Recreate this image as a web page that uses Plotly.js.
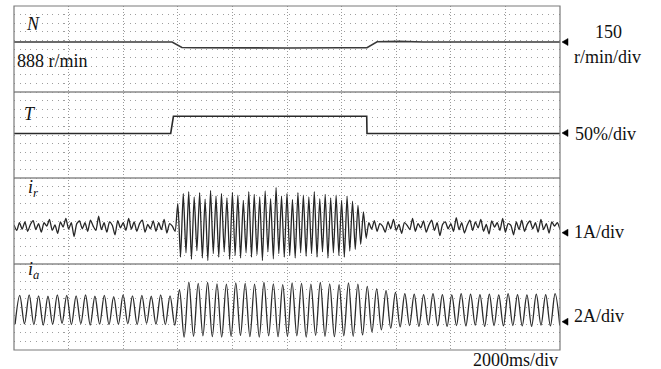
<!DOCTYPE html>
<html>
<head>
<meta charset="utf-8">
<script src="https://cdn.plot.ly/plotly-3.0.1.min.js"></script>
<style>html,body{margin:0;padding:0;background:#fff;}#chart{width:661px;height:369px;}</style>
</head>
<body>
<div id="chart"></div>
<script>
// ---- Data (time in s, 2000 ms/div) ----
// Speed N (r/min)
const nTime = [0, 2, 4, 5.79, 6.15, 6.6, 8, 10, 12, 12.93, 13.3, 14.1, 15, 17, 20];
const nSpeed = [888, 889, 888, 888, 869, 868, 867, 867, 868, 868, 889, 890, 888, 889, 888];
// Load torque T (%)
const tTime = [0, 5.74, 5.84, 12.92, 12.93, 20];
const tLoad = [0, 0, 20, 20, 0, 0];
// Rotor current i_r (A), sampled every 0.1 s
const irStep = 0.1;
const irBefore = [0.05,-0.08,0.10,-0.05,0.12,-0.10,0.06,0.15,-0.06,0.08,
  -0.12,0.10,0.02,0.18,-0.08,0.05,-0.15,0.12,0.00,0.20,
  -0.05,0.10,-0.22,0.08,0.14,-0.04,0.10,-0.10,0.16,0.02,
  -0.08,0.25,-0.06,0.10,-0.12,0.12,0.04,-0.18,0.15,-0.02,
  0.10,-0.08,0.20,-0.05,0.12,-0.10,0.08,0.16,-0.12,0.06,
  -0.04,0.14,-0.10,0.10,-0.06,0.18,-0.14,0.08,0.02,-0.10];
const irLoaded = [0.55,-0.70,0.78,-0.60,0.82,-0.75,0.70,-0.55,0.80,-0.72,
  0.65,-0.78,0.85,-0.62,0.72,-0.70,0.78,-0.58,0.68,-0.75,
  0.80,-0.66,0.74,-0.72,0.62,-0.60,0.82,-0.70,0.76,-0.64,
  0.70,-0.78,0.84,-0.58,0.66,-0.74,0.92,-0.62,0.72,-0.70,
  0.78,-0.66,0.64,-0.72,0.80,-0.60,0.74,-0.68,0.70,-0.62,
  0.82,-0.70,0.66,-0.58,0.76,-0.72,0.68,-0.60,0.74,-0.66,
  0.62,-0.70,0.72,-0.56,0.60,-0.52,0.50,-0.40,0.35,-0.25];
const irAfter = [0.10,-0.05,0.15,-0.10,0.08,0.02,-0.12,0.12,-0.04,0.18,
  -0.08,0.06,-0.15,0.10,0.04,-0.06,0.20,-0.10,0.08,-0.02,
  0.14,-0.12,0.05,0.16,-0.08,0.10,-0.20,0.06,0.12,-0.04,
  0.08,-0.10,0.22,-0.06,0.10,-0.14,0.04,0.16,-0.08,0.12,
  -0.02,0.18,-0.10,0.06,-0.16,0.14,0.00,0.10,-0.08,0.20,
  -0.12,0.08,0.04,-0.18,0.12,-0.06,0.16,-0.10,0.06,0.14,
  -0.04,0.10,-0.12,0.18,-0.06,0.08,-0.14,0.12,0.02,0.10,-0.05];
// Stator current i_a (A): successive troughs/peaks, starting 0.04 s, every 0.172 s
const iaStart = 0.04, iaStep = 0.172;
const iaBefore = [-0.66,0.68,-0.64,0.70,-0.68,0.66,-0.70,0.64,-0.66,0.70,
  -0.62,0.68,-0.68,0.66,-0.64,0.70,-0.70,0.64,-0.66,0.68,
  -0.68,0.62,-0.66,0.70,-0.64,0.66,-0.68,0.68,-0.62,0.64,
  -0.66,0.70,-0.68,0.66,-0.70];
const iaLoaded = [0.93,-1.26,1.30,-1.22,1.24,-1.20,1.28,-1.24,1.22,-1.26,
  1.20,-1.22,1.26,-1.18,1.24,-1.24,1.20,-1.26,1.28,-1.20,
  1.22,-1.24,1.18,-1.22,1.26,-1.20,1.24,-1.26,1.20,-1.18,
  1.28,-1.22,1.22,-1.24,1.18,-1.20,1.26,-1.22,1.20,-1.16,
  1.10,-1.02,0.98,-0.92,0.90,-0.84,0.82,-0.78];
const iaAfter = [0.76,-0.72,0.74,-0.76,0.72,-0.70,0.76,-0.74,0.72,-0.76,
  0.70,-0.72,0.76,-0.74,0.74,-0.70,0.72,-0.76,0.74,-0.72,
  0.70,-0.74,0.76,-0.72,0.72,-0.74,0.70,-0.76,0.74,-0.70,
  0.72,-0.74,0.76,-0.72];
// Channel labels / scales
const channelNames = ["N", "T", "i<sub>r</sub>", "i<sub>a</sub>"];
const scaleLabels = ["150", "r/min/div", "50%/div", "1A/div", "2A/div"];
const speedLabel = "888 r/min";
const timeLabel = "2000ms/div";

// ---- Channel placement on the 8-division screen (display only) ----
const ch = {
  N:  {pos: 7.163, ref: 888, perDiv: 150},
  T:  {pos: 5.035, ref: 0, perDiv: 50},
  ir: {pos: 2.860, ref: 0, perDiv: 1},
  ia: {pos: 0.930, ref: 0, perDiv: 2}
};
const toDiv = (c, arr) => arr.map(v => c.pos + (v - c.ref) / c.perDiv);

const irVals = irBefore.concat(irLoaded, irAfter);
const irTime = irVals.map((_, i) => i * irStep);
const iaVals = iaBefore.concat(iaLoaded, iaAfter);
const iaTime = iaVals.map((_, i) => iaStart + i * iaStep);

const traces = [
  {x: nTime, y: toDiv(ch.N, nSpeed), mode: 'lines', line: {color: '#3a3a3a', width: 1.6}, hoverinfo: 'skip'},
  {x: tTime, y: toDiv(ch.T, tLoad), mode: 'lines', line: {color: '#2a2a2a', width: 1.6}, hoverinfo: 'skip'},
  {x: irTime, y: toDiv(ch.ir, irVals), mode: 'lines', line: {color: '#262626', width: 1.3, shape: 'spline', smoothing: 0.6}, hoverinfo: 'skip'},
  {x: iaTime, y: toDiv(ch.ia, iaVals), mode: 'lines', line: {color: '#2b2b2b', width: 1.3, shape: 'spline', smoothing: 1}, hoverinfo: 'skip'}
];

const L = 14, R = 560, TOP = 6, BOT = 350;
const px = x => (x - L) / (R - L);
const py = y => (BOT - y) / (BOT - TOP);
const serif = 'Liberation Serif, Times New Roman, serif';

function ann(text, x, y, xanchor, size, style) {
  return {text: text, xref: 'paper', yref: 'paper', x: px(x), y: py(y),
    xanchor: xanchor, yanchor: 'middle', showarrow: false,
    font: {family: serif, size: size, color: '#111', style: style || 'normal'}};
}
const annotations = [
  ann(channelNames[0], 33, 24, 'center', 18, 'italic'),
  ann(speedLabel, 15, 61, 'left', 18),
  ann(channelNames[1], 30, 114, 'center', 18, 'italic'),
  ann(channelNames[2], 33, 188, 'center', 18, 'italic'),
  ann(channelNames[3], 33, 270, 'center', 18, 'italic'),
  ann(scaleLabels[0], 608, 32, 'center', 18),
  ann(scaleLabels[1], 607, 57, 'center', 18),
  ann(scaleLabels[2], 573, 134, 'left', 18),
  ann(scaleLabels[3], 572, 232, 'left', 18),
  ann(scaleLabels[4], 572, 316, 'left', 18),
  ann(timeLabel, 560, 360, 'right', 18)
];

const shapes = [2, 4, 6].map(v => ({type: 'line', xref: 'paper', yref: 'y', x0: 0, x1: 1, y0: v, y1: v,
  line: {color: '#8a8a8a', width: 1.6}}));
shapes.push({type: 'rect', xref: 'paper', yref: 'paper', x0: 0, x1: 1, y0: 0, y1: 1,
  line: {color: '#7a7a7a', width: 1.2}});
// channel ground markers (small left-pointing triangles on the right edge)
[42, 133, 232.7, 321.7].forEach(y => {
  const path = 'M' + px(562) + ',' + py(y) + ' L' + px(568) + ',' + py(y - 3.5) +
               ' L' + px(568) + ',' + py(y + 3.5) + ' Z';
  shapes.push({type: 'path', xref: 'paper', yref: 'paper', path: path,
    fillcolor: '#000', line: {color: '#000', width: 0.5}});
});

const layout = {
  width: 661, height: 369,
  margin: {l: L, r: 661 - R, t: TOP, b: 369 - BOT, pad: 0},
  paper_bgcolor: '#fff', plot_bgcolor: '#fff',
  showlegend: false,
  xaxis: {range: [0, 20], dtick: 2, tick0: 0, showgrid: true, gridcolor: '#9a9a9a', gridwidth: 1,
    griddash: '1px,2px', showticklabels: false, ticks: '', zeroline: false, showline: false, fixedrange: true},
  yaxis: {range: [0, 8], dtick: 0.2, tick0: 0, showgrid: true, gridcolor: '#9e9e9e', gridwidth: 1,
    griddash: '1px,4.5px', showticklabels: false, ticks: '', zeroline: false, showline: false, fixedrange: true},
  annotations: annotations,
  shapes: shapes
};

Plotly.newPlot('chart', traces, layout, {staticPlot: true, displayModeBar: false});
</script>
</body>
</html>
